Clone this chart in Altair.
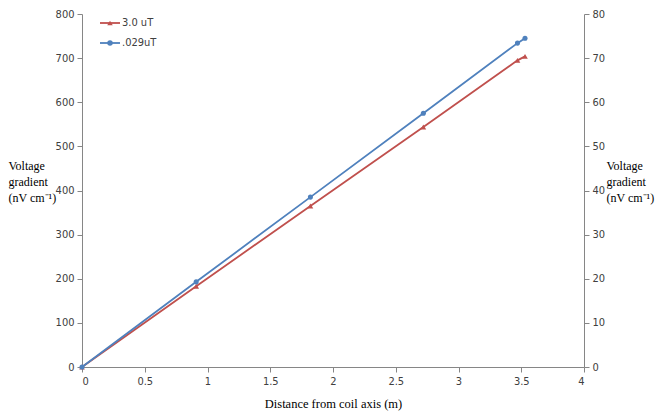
import altair as alt
import pandas as pd

# ---- data ----
distance = [0, 0.91, 1.82, 2.72, 3.47, 3.53]
red_vals = [0, 183, 365, 544, 695, 704]          # 3.0 uT, left axis (0-800)
blue_vals = [0, 19.3, 38.5, 57.5, 73.4, 74.5]    # .029uT, right axis (0-80)
series_names = ["3.0 uT", ".029uT"]
series_shapes = ["triangle-up", "circle"]
x_ticks = [0, 0.5, 1, 1.5, 2, 2.5, 3, 3.5, 4]
left_ticks = [0, 100, 200, 300, 400, 500, 600, 700, 800]
right_ticks = [0, 10, 20, 30, 40, 50, 60, 70, 80]
y_title = ["Voltage", "gradient", "(nV cm\u207b\u00b9)"]
x_title = "Distance from coil axis (m)"

RED = "#C0504D"
BLUE = "#4F81BD"
AXIS_GRAY = "#868686"
LABEL_COLOR = "#404040"
SANS = "Liberation Sans Narrow, DejaVu Sans Condensed, Liberation Sans, sans-serif"
SERIF = "Liberation Serif, Times New Roman, serif"

df_red = pd.DataFrame({"distance": distance, "value": red_vals, "series": series_names[0]})
df_blue = pd.DataFrame({"distance": distance, "value": blue_vals, "series": series_names[1]})
df_legend = pd.DataFrame({"series": series_names})

common_axis = dict(
    grid=False,
    domainColor=AXIS_GRAY,
    tickColor=AXIS_GRAY,
    tickSize=5,
    labelFont=SANS,
    labelFontSize=11,
    labelColor=LABEL_COLOR,
    labelPadding=3,
    titleFont=SERIF,
    titleFontWeight="normal",
    titleColor="black",
)

x_enc = alt.X(
    "distance:Q",
    scale=alt.Scale(domain=[0, 4], nice=False),
    axis=alt.Axis(values=x_ticks, format="~g", title=x_title, titleFontSize=12.5,
                  titleBaseline="middle", titleY=36, **common_axis),
)

y_left = alt.Y(
    "value:Q",
    scale=alt.Scale(domain=[0, 800], nice=False),
    axis=alt.Axis(values=left_ticks, format="d", orient="left", title=y_title,
                  titleAngle=0, titleAlign="left", titleBaseline="top",
                  titleX=-74, titleY=146, titleFontSize=12, titleLineHeight=16,
                  **common_axis),
)

y_right = alt.Y(
    "value:Q",
    scale=alt.Scale(domain=[0, 80], nice=False),
    axis=alt.Axis(values=right_ticks, format="d", orient="right", title=y_title,
                  titleAngle=0, titleAlign="left", titleBaseline="top",
                  titleX=22, titleY=146, titleFontSize=12, titleLineHeight=16,
                  **common_axis),
)

color_enc = alt.Color(
    "series:N",
    scale=alt.Scale(domain=series_names, range=[RED, BLUE]),
    legend=None,
)

red_line = alt.Chart(df_red).mark_line(strokeWidth=1.8).encode(x=x_enc, y=y_left, color=color_enc)
red_pts = alt.Chart(df_red).mark_point(shape="triangle-up", filled=True, size=32, opacity=1).encode(
    x=x_enc, y=y_left, color=color_enc)
blue_line = alt.Chart(df_blue).mark_line(strokeWidth=1.8).encode(x=x_enc, y=y_right, color=color_enc)
blue_pts = alt.Chart(df_blue).mark_point(shape="circle", filled=True, size=26, opacity=1).encode(
    x=x_enc, y=y_right, color=color_enc)

# ---- legend (top-left, inside plot) ----
leg_y = alt.Y("series:N", scale=alt.Scale(type="point", domain=series_names, range=[9, 29], padding=0),
              axis=None)
leg_rule = alt.Chart(df_legend).mark_rule(strokeWidth=1.8).encode(
    x=alt.value(18), x2=alt.value(38), y=leg_y, color=color_enc)
leg_pts = alt.Chart(df_legend).mark_point(filled=True, size=30, opacity=1).encode(
    x=alt.value(28), y=leg_y, color=color_enc,
    shape=alt.Shape("series:N", scale=alt.Scale(domain=series_names, range=series_shapes), legend=None))
leg_text = alt.Chart(df_legend).mark_text(align="left", baseline="middle", font=SANS, fontSize=11,
                                          color=LABEL_COLOR).encode(
    x=alt.value(40), y=leg_y, text="series:N")

left = alt.layer(red_line, red_pts)
right = alt.layer(blue_line, blue_pts)
legend_layer = alt.layer(leg_rule, leg_pts, leg_text)

chart = (
    alt.layer(left, right, legend_layer)
    .resolve_scale(y="independent")
    .properties(
        width=502,
        height=353,
        padding={"left": 74, "top": 6, "right": 74, "bottom": 44},
        autosize=alt.AutoSizeParams(type="none"),
        background="white",
    )
    .configure_view(stroke=None)
)

chart.save("out.html", embed_options={"renderer": "svg", "actions": False})
